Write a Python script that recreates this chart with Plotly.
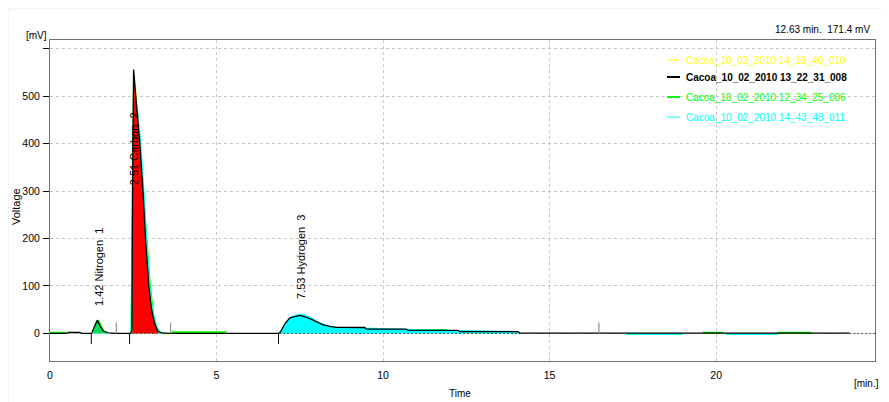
import plotly.graph_objects as go

# ---------------- data ----------------
# black trace: Cacoa_10_02_2010 13_22_31_008
black_t = [0, 0.5, 0.55, 0.9, 0.95, 1.25, 1.32, 1.42, 1.5, 1.6, 1.75, 2.0, 2.42, 2.46, 2.48, 2.51,
           2.53, 2.6, 2.69, 2.79, 2.87, 2.97, 3.05, 3.14, 3.24, 3.35, 3.6, 5.3, 6.86, 6.92, 7.05,
           7.2, 7.5, 7.75, 8.0, 8.2, 8.4, 8.6, 9.45, 9.5, 10.7, 10.75, 12.25, 12.3, 14.05, 14.1, 24.0]
black_mv = [0, 0, 2, 2, 0, 0, 12, 28, 16, 5, 1, 0, 0, 8, 320, 556,
            540, 478, 406, 301, 196, 97, 50, 21, 4, 1, 0, 0, 0, 3, 20,
            33, 38, 33, 24, 18, 15, 13, 12.6, 9, 9, 6.3, 6.3, 4, 4, 0.5, 0.5]

# cyan trace: Cacoa_10_02_2010 14_43_48_011 (None = hidden behind other traces)
cyan_t = [1.3, 1.42, 1.55, 1.7, None, 2.44, 2.49, 2.53, 2.6, 2.71, 2.81, 2.89, 2.99, 3.07, 3.16, 3.26, 3.45,
          None, 6.88, 6.95, 7.1, 7.3, 7.55, 7.8, 8.0, 8.3, 8.6, 9.4, 10.7, 12.2, 14.1,
          None, 17.3, 19.0, None, 20.3, 21.85]
cyan_mv = [0, 12, 4, 0, None, 0, 320, 505, 480, 406, 301, 196, 97, 50, 21, 3, 0,
           None, 0, 6, 24, 36, 40, 34, 25, 16, 12, 11, 8, 5.5, 3,
           None, -1.5, -1.5, None, -1.5, -1.5]

# green trace: Cacoa_10_02_2010 12_34_25_006
green_t = [0, 0.5, None, 1.3, 1.38, 1.45, 1.55, 1.65, None, 2.45, 2.48, 2.52, 2.6, 2.7, 2.8, 2.9, 3.0,
           3.1, 3.2, 3.3, None, 3.65, 5.3, None, 10.7, 11.9, None, 19.6, 20.2, None, 21.85, 22.85]
green_mv = [1.5, 1.5, None, 1, 20, 28, 12, 1, None, 1, 300, 530, 470, 390, 290, 190, 100,
            40, 12, 2, None, 2.5, 2.5, None, 7.5, 7.5, None, 1.5, 1.5, None, 1.5, 1.5]

# yellow trace: Cacoa_10_02_2010 14_19_40_010
yellow_t = [0.3, 0.5, None, 1.3, 1.42, 1.6, None, 2.45, 2.5, 2.55, 2.65, 2.8, 2.95, 3.1, 3.25, 3.4, None, 3.4, 3.6]
yellow_mv = [0.5, 0.5, None, 0, 22, 0, None, 0, 380, 520, 450, 300, 130, 35, 3, 0, None, -0.5, -0.5]

# integrated (red) area of peak 2
red_t = [2.47, 2.49, 2.51, 2.53, 2.6, 2.69, 2.79, 2.87, 2.97, 3.05, 3.14, 3.24]
red_mv = [0, 330, 556, 540, 478, 406, 301, 196, 97, 50, 21, 4]

# peak-event marks
event_below_t = [1.24, 2.39, 6.86]
event_above_t = [1.99, 3.62, 16.48]

# integration baselines (dotted)
base_segments = [(2.46, 3.3), (6.88, 14.1), (24.0, 24.77)]

# peak labels
peak_names = ["1.42 Nitrogen\u00a0\u00a01", "2.51 Carbon\u00a0\u00a02", "7.53 Hydrogen\u00a0\u00a03"]
peak_label_t = [1.47, 2.52, 7.52]
peak_label_mv = [140, 390, 162]

# legend
legend_names = ["Cacoa_10_02_2010 14_19_40_010", "Cacoa_10_02_2010 13_22_31_008",
                "Cacoa_10_02_2010 12_34_25_006", "Cacoa_10_02_2010 14_43_48_011"]
legend_colors = ["#ffff00", "#000000", "#00ff00", "#00ffff"]

y_ticks = [0, 100, 200, 300, 400, 500, 600]
y_ticktext = ["0", "100", "200", "300", "400", "500", ""]
x_ticks = [0, 5, 10, 15, 20]

# ---------------- figure ----------------
SANS = "Liberation Sans, Arial, sans-serif"

OFF = 8  # page body margin
W, H = 889 - OFF, 402 - OFF
L, R, T, B = 50 - OFF, 14, 40 - OFF, 41
PW, PH = W - L - R, H - T - B


def px(x):
    return (x - OFF - L) / PW


def py(y):
    return (H - B - (y - OFF)) / PH


fig = go.Figure()

# lines drawn beneath the fills
fig.add_trace(go.Scatter(x=yellow_t, y=yellow_mv, mode="lines", line=dict(color="#ffff00", width=1.5),
                         name=legend_names[0], showlegend=False))
fig.add_trace(go.Scatter(x=green_t, y=green_mv, mode="lines", line=dict(color="#00ff00", width=2),
                         name=legend_names[2], showlegend=False))
fig.add_trace(go.Scatter(x=cyan_t, y=cyan_mv, mode="lines", line=dict(color="#00ffff", width=1.8),
                         name=legend_names[3], showlegend=False))

# fills
hyd_t = [t for t in cyan_t if t is not None and 6.8 < t < 14.2]
hyd_v = [v for t, v in zip(cyan_t, cyan_mv) if t is not None and 6.8 < t < 14.2]
fig.add_trace(go.Scatter(x=hyd_t, y=hyd_v, mode="lines", line=dict(width=0), fill="tozeroy",
                         fillcolor="#00ffff", hoverinfo="skip", showlegend=False))
fig.add_trace(go.Scatter(x=[t for t in green_t if t is not None and 1.25 < t < 1.7],
                         y=[v for t, v in zip(green_t, green_mv) if t is not None and 1.25 < t < 1.7],
                         mode="lines", line=dict(width=0), fill="tozeroy", fillcolor="#00e060",
                         hoverinfo="skip", showlegend=False))
fig.add_trace(go.Scatter(x=red_t, y=red_mv, mode="lines", line=dict(width=0), fill="tozeroy",
                         fillcolor="#ff0000", hoverinfo="skip", showlegend=False))

# dotted baselines
bx, by = [], []
for a, b in base_segments:
    bx += [a, b, None]
    by += [0, 0, None]
fig.add_trace(go.Scatter(x=bx, y=by, mode="lines", line=dict(color="#555555", width=1, dash="2px,2px"),
                         hoverinfo="skip", showlegend=False))

fig.add_trace(go.Scatter(x=black_t, y=black_mv, mode="lines", line=dict(color="#000000", width=1.3),
                         name=legend_names[1], showlegend=False))

# event marks
ex, ey = [], []
for t in event_below_t:
    ex += [t, t, None]
    ey += [0, -22, None]
fig.add_trace(go.Scatter(x=ex, y=ey, mode="lines", line=dict(color="#000000", width=1),
                         hoverinfo="skip", showlegend=False))
ex, ey = [], []
for t in event_above_t:
    ex += [t, t, None]
    ey += [0, 23, None]
fig.add_trace(go.Scatter(x=ex, y=ey, mode="lines", line=dict(color="#999999", width=1.3),
                         hoverinfo="skip", showlegend=False))

annotations = []
for name, t, v in zip(peak_names, peak_label_t, peak_label_mv):
    annotations.append(dict(x=t, y=v, xref="x", yref="y", text=name, textangle=-90, showarrow=False,
                            font=dict(family=SANS, size=11, color="#000000")))

# legend (drawn)
legend_y = [60, 77, 97, 117]
shapes = [dict(type="rect", xref="paper", yref="paper", x0=px(9), x1=px(882), y0=py(402), y1=py(10),
               fillcolor="#ffffff", line=dict(width=0), layer="below")]
for name, col, yy, i in zip(legend_names, legend_colors, legend_y, range(4)):
    shapes.append(dict(type="line", xref="paper", yref="paper", x0=px(667), x1=px(680), y0=py(yy), y1=py(yy),
                       line=dict(color=col, width=2 if i in (1, 2) else 1)))
    annotations.append(dict(x=px(684), y=py(yy), xref="paper", yref="paper", xanchor="left", yanchor="middle",
                            text=("<b>%s</b>" % name) if i == 1 else name, showarrow=False,
                            font=dict(family=SANS, size=10, color=col)))

annotations += [
    dict(x=px(872), y=py(29), xref="paper", yref="paper", xanchor="right", yanchor="middle",
         text="12.63 min.\u00a0\u00a0171.4 mV", showarrow=False, font=dict(family=SANS, size=10, color="#000")),
    dict(x=px(36), y=py(35), xref="paper", yref="paper", xanchor="center", yanchor="middle",
         text="[mV]", showarrow=False, font=dict(family=SANS, size=10, color="#000")),
    dict(x=px(16), y=py(207), xref="paper", yref="paper", xanchor="center", yanchor="middle",
         text="Voltage", textangle=-90, showarrow=False, font=dict(family=SANS, size=11, color="#000")),
    dict(x=px(460), y=py(394), xref="paper", yref="paper", xanchor="center", yanchor="middle",
         text="Time", showarrow=False, font=dict(family=SANS, size=10, color="#000")),
    dict(x=px(866), y=py(383), xref="paper", yref="paper", xanchor="center", yanchor="middle",
         text="[min.]", showarrow=False, font=dict(family=SANS, size=10, color="#000")),
]

fig.update_layout(
    width=W, height=H, margin=dict(l=L, r=R, t=T, b=B),
    paper_bgcolor="#f4f6fa", plot_bgcolor="#ffffff",
    showlegend=False, annotations=annotations, shapes=shapes,
    xaxis=dict(range=[0, 24.77], tickvals=x_ticks, ticks="", showgrid=True, gridcolor="#c8c8c8",
               griddash="3px,3px", gridwidth=1, zeroline=False, showline=True, linecolor="#707070",
               linewidth=1, mirror=True, tickfont=dict(family=SANS, size=10.5, color="#000"),
               ticklabelstandoff=4),
    yaxis=dict(range=[-58, 618], tickvals=y_ticks, ticktext=y_ticktext, ticks="outside", ticklen=6,
               tickcolor="#000", showgrid=True, gridcolor="#c8c8c8", griddash="3px,3px", gridwidth=1,
               zeroline=False, showline=True, linecolor="#707070", linewidth=1, mirror=True,
               tickfont=dict(family=SANS, size=10.5, color="#000"), ticklabelstandoff=1),
)

fig.write_html("out.html")
